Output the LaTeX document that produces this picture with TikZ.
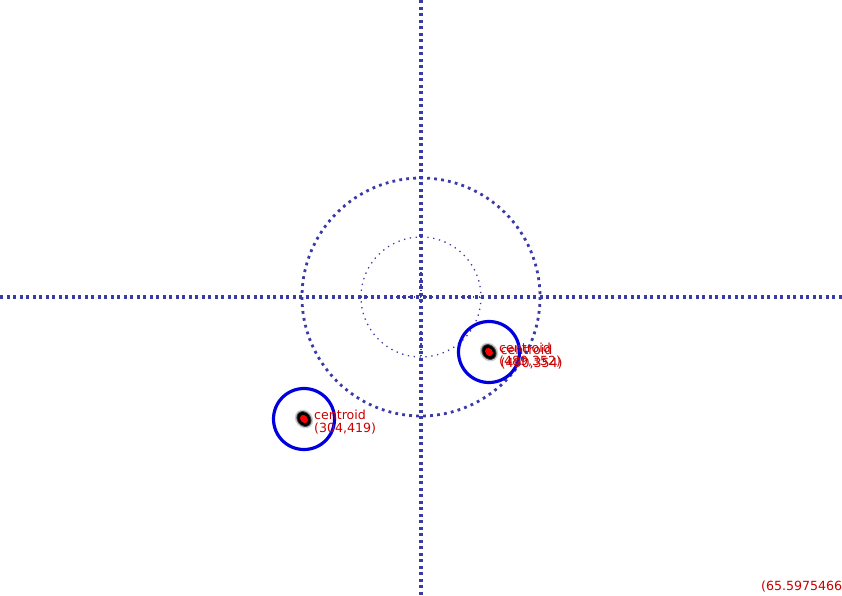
\documentclass[tikz,border=0pt]{standalone}
\usepackage{fontspec}
\setsansfont{DejaVu Sans}
\usetikzlibrary{positioning}
\definecolor{GuideBlue}{RGB}{58, 58, 168}
\definecolor{TrackBlue}{RGB}{0, 0, 222}
\definecolor{LabelRed}{RGB}{204, 0, 0}

\begin{document}
\begin{tikzpicture}[x=1pt,y=-1pt,
  guide/.style={GuideBlue, line width=3.2pt, dash pattern=on 3.2pt off 3.3pt},
  ring/.style={GuideBlue, line width=2.8pt, dash pattern=on 2.8pt off 4.2pt},
  fine/.style={GuideBlue, line width=1.3pt, dash pattern=on 1.3pt off 4.6pt},
  track/.style={TrackBlue, line width=3.2pt},
  tag/.style={LabelRed, font=\sffamily\fontsize{12.6}{13}\selectfont, align=left, inner sep=0pt, anchor=north west}
]
\useasboundingbox[fill=white] (0,0) rectangle (842,595);
\coordinate (centre) at (421,297);
% crosshair
\draw[guide] (0,297) -- (842,297);
\draw[guide] (421,0) -- (421,595);
\draw[ring] (centre) circle (119);
\draw[fine] (centre) circle (60);
\draw[fine] (361,297) -- (481,297);
\draw[fine] (421,237) -- (421,357);
% centroids
\foreach \name/\px/\py/\txt in {blobA/489/352/{(489,352)}, blobB/304/419/{(304,419)}} {
  \fill[black!20, rotate around={-50:(\px,\py)}] (\px,\py) ellipse (10 and 8.5);
  \fill[black!70, rotate around={-50:(\px,\py)}] (\px,\py) ellipse (8.5 and 7);
  \fill[black, rotate around={-50:(\px,\py)}] (\px,\py) ellipse (7.5 and 6);
  \fill[red, rotate around={-50:(\px,\py)}] (\px,\py) ellipse (4.5 and 3.5);
  \node[circle, inner sep=0pt, minimum size=5pt] (\name) at (\px,\py) {};
  \draw[track] (\name) circle (30.5);
  \node[tag] (\name-tag) at (\px+10,\py-9.5) {centroid\\\txt};
}
\node[tag] (blobA-echo) at (500.5,344.5) {centroid\\(490,354)};
\node[tag, anchor=south west] (ratio) at (761,592) {(65.5975466};
\end{tikzpicture}
\end{document}
